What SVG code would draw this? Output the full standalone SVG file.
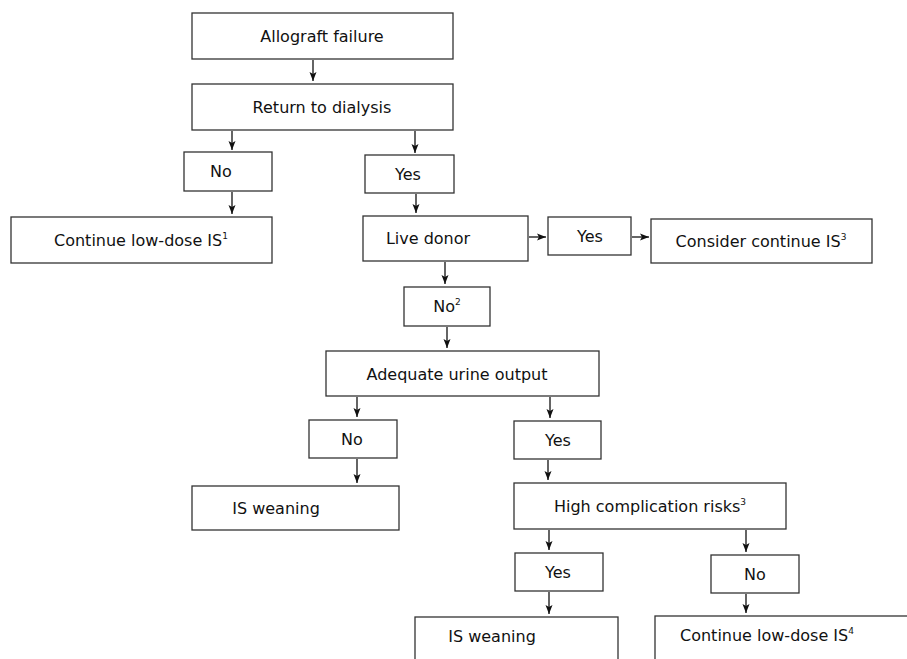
<svg xmlns="http://www.w3.org/2000/svg" width="907" height="659" viewBox="0 0 907 659">
<style>
  rect.box { fill: #ffffff; stroke: #333333; stroke-width: 1.3; }
  text { font-family: "DejaVu Sans", Verdana, sans-serif; font-size: 16px; fill: #111111; text-anchor: middle; }
  tspan.sup { font-size: 9px; }
  .conn line { stroke: #111111; stroke-width: 1.3; marker-end: url(#ah); }
</style>
<defs>
  <marker id="ah" markerUnits="userSpaceOnUse" markerWidth="10" markerHeight="8" refX="9" refY="4" orient="auto">
    <path d="M0,0.5 L9,4 L0,7.5 L2,4 z" fill="#111111"/>
  </marker>
</defs>
<rect width="907" height="659" fill="#ffffff"/>

<g id="n-allograft"><rect class="box" x="192" y="13" width="261" height="46"/><text x="322" y="42">Allograft failure</text></g>
<g id="n-return"><rect class="box" x="192" y="84" width="261" height="46"/><text x="322" y="113">Return to dialysis</text></g>
<g id="n-no1"><rect class="box" x="184" y="152" width="88" height="39"/><text x="221" y="177">No</text></g>
<g id="n-yes1"><rect class="box" x="365" y="155" width="89" height="38"/><text x="408" y="180">Yes</text></g>
<g id="n-cont1"><rect class="box" x="11" y="217" width="261" height="46"/><text x="141" y="246">Continue low-dose IS<tspan class="sup" dy="-7">1</tspan></text></g>
<g id="n-live"><rect class="box" x="363" y="216" width="165" height="45"/><text x="428" y="244">Live donor</text></g>
<g id="n-yes2"><rect class="box" x="548" y="217" width="83" height="38"/><text x="590" y="242">Yes</text></g>
<g id="n-consider"><rect class="box" x="651" y="219" width="221" height="44"/><text x="761" y="247">Consider continue IS<tspan class="sup" dy="-7">3</tspan></text></g>
<g id="n-no2"><rect class="box" x="404" y="287" width="86" height="39"/><text x="447" y="312">No<tspan class="sup" dy="-7">2</tspan></text></g>
<g id="n-urine"><rect class="box" x="326" y="351" width="273" height="45"/><text x="457" y="380">Adequate urine output</text></g>
<g id="n-no3"><rect class="box" x="309" y="420" width="88" height="38"/><text x="352" y="445">No</text></g>
<g id="n-yes3"><rect class="box" x="514" y="421" width="87" height="38"/><text x="558" y="446">Yes</text></g>
<g id="n-wean1"><rect class="box" x="192" y="486" width="207" height="44"/><text x="276" y="514">IS weaning</text></g>
<g id="n-high"><rect class="box" x="514" y="483" width="272" height="46"/><text x="650" y="512">High complication risks<tspan class="sup" dy="-7">3</tspan></text></g>
<g id="n-yes4"><rect class="box" x="515" y="553" width="88" height="38"/><text x="558" y="578">Yes</text></g>
<g id="n-no4"><rect class="box" x="711" y="555" width="88" height="38"/><text x="755" y="580">No</text></g>
<g id="n-wean2"><rect class="box" x="415" y="617" width="203" height="60"/><text x="492" y="642">IS weaning</text></g>
<g id="n-cont2"><rect class="box" x="655" y="616" width="270" height="60"/><text x="767" y="641">Continue low-dose IS<tspan class="sup" dy="-7">4</tspan></text></g>

<g id="connectors" class="conn">
  <line x1="313" y1="60" x2="313" y2="81"/>
  <line x1="232" y1="131" x2="232" y2="150"/>
  <line x1="415" y1="131" x2="415" y2="153"/>
  <line x1="232" y1="192" x2="232" y2="214"/>
  <line x1="416" y1="194" x2="416" y2="213"/>
  <line x1="529" y1="237" x2="546" y2="237"/>
  <line x1="632" y1="237" x2="649" y2="237"/>
  <line x1="445" y1="262" x2="445" y2="284"/>
  <line x1="447" y1="327" x2="447" y2="348"/>
  <line x1="357" y1="397" x2="357" y2="417"/>
  <line x1="550" y1="397" x2="550" y2="418"/>
  <line x1="357" y1="459" x2="357" y2="483"/>
  <line x1="548" y1="460" x2="548" y2="480"/>
  <line x1="549" y1="530" x2="549" y2="550"/>
  <line x1="746" y1="530" x2="746" y2="552"/>
  <line x1="549" y1="592" x2="549" y2="614"/>
  <line x1="746" y1="594" x2="746" y2="613"/>
</g>
</svg>
